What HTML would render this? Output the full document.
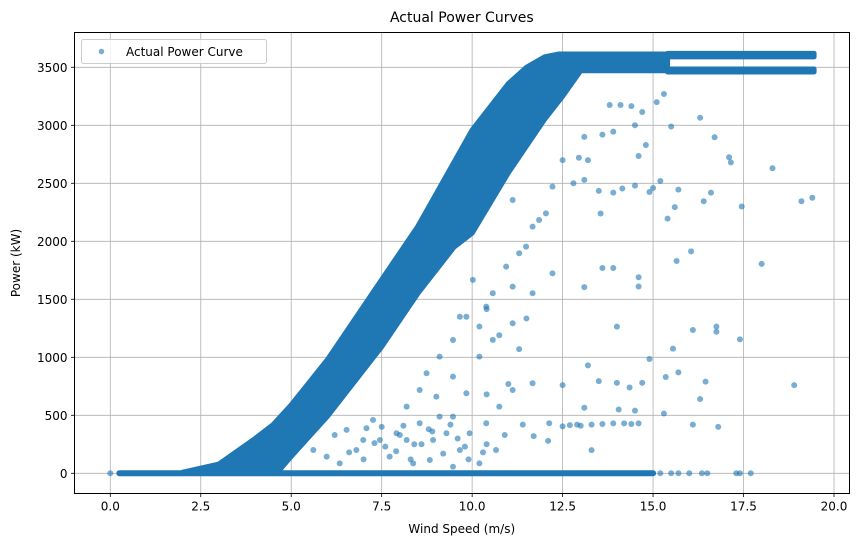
<!DOCTYPE html>
<html><head><meta charset="utf-8"><style>
body{margin:0;background:#fff;font-family:"Liberation Sans","DejaVu Sans",sans-serif}
svg text{font-family:"DejaVu Sans","Liberation Sans",sans-serif;fill:#000}
</style></head><body>
<svg id="chart" width="859" height="547" viewBox="0 0 859 547" xmlns="http://www.w3.org/2000/svg">
<text x="461.8" y="22" font-size="14" text-anchor="middle">Actual Power Curves</text>
<g id="grid"></g>
<g id="marks"></g>
<rect x="74.5" y="32.5" width="775" height="461" fill="none" stroke="#000" stroke-width="1"/>
<g id="ticks"></g>
<text x="461.8" y="533" font-size="12" text-anchor="middle">Wind Speed (m/s)</text>
<text x="20" y="263" font-size="12" text-anchor="middle" transform="rotate(-90 20 263)">Power (kW)</text>
<g>
<rect x="81.5" y="39.5" width="185" height="24" rx="2" fill="#fff" fill-opacity="0.8" stroke="#ccc"/>
<circle cx="101.5" cy="51.5" r="2.8" fill="#1f77b4" fill-opacity="0.6"/>
<text x="126" y="56" font-size="12">Actual Power Curve</text>
</g>
</svg>
<script>
const xTicks=[0,2.5,5,7.5,10,12.5,15,17.5,20];
const xTickLabels=["0.0","2.5","5.0","7.5","10.0","12.5","15.0","17.5","20.0"];
const yTicks=[0,500,1000,1500,2000,2500,3000,3500];
const yTickLabels=["0","500","1000","1500","2000","2500","3000","3500"];
const bandUpperWs=[2,3,4,4.5,5,6,7.5,8.5,10,11,11.5,12,12.4,15.4];
const bandUpperKw=[10,80,300,420,590,980,1670,2130,2960,3360,3500,3590,3615,3615];
const bandLowerWs=[15.4,13,12.5,12,11,10,9.5,8.5,7.5,6,5,4.6,4,2];
const bandLowerKw=[3470,3470,3250,3050,2590,2070,1950,1550,1090,490,145,0,0,0];
const plateauStartWs=15.4, plateauEndWs=19.45;
const plateauTopKw=[3590,3620];
const plateauBottomKw=[3460,3485];
const zeroLineWs=[0.25,15.0];
const zeroOutlierWs=[0,15.2,15.5,15.7,16.0,16.35,16.5,17.3,17.4,17.7];
const outlierWs=[
16.3,15.5,16.7,17.1,17.15,18.3,19.1,19.4,17.45,15.4,
16.05,15.65,18.0,14.6,14.6,13.9,13.6,13.1,14.0,16.1,
16.75,16.75,17.4,18.9,16.8,16.1,16.3,16.45,15.55,14.9,
13.2,13.5,14.05,13.3,12.5,12.1,11.7,11.5,11.3,11.0,
10.4,10.2,10.75,10.4,13.1,14.5,15.3,14.7,15.35,15.7,
14.35,14.0,13.8,14.1,14.4,14.7,15.1,15.3,13.9,13.6,
13.1,14.5,14.8,14.6,13.2,12.95,12.8,13.1,13.5,13.9,
14.15,14.5,14.9,15.2,15.0,15.7,16.6,16.4,15.6,13.55,
12.5,12.7,12.9,13.0,13.3,13.6,13.9,14.2,14.4,14.6,
6.53,7.08,7.45,7.91,8.55,8.92,9.29,9.66,6.8,7.72,
8.19,8.55,9.01,9.47,9.84,10.2,10.57,11.12,11.67,12.22,
9.84,10.39,10.94,11.3,11.67,12.04,12.22,11.12,12.5,5.98,
5.61,6.34,8.37,8.83,9.47,10.2,10.66,9.1,8.19,7.26,
6.99,9.47,9.93,10.39,10.75,11.12,11.67,12.13,8.74,9.1,
9.47,9.66,10.02,10.57,11.12,11.49,11.85,7.6,8.0,8.4,
7.0,7.3,7.9,8.1,8.6,8.9,9.2,9.6,9.9,10.4,
6.2,6.6,7.5,8.3,8.8,9.4,9.8,10.3,10.9,11.4];
const outlierKw=[
3065,2990,2897,2725,2680,2630,2345,2375,2300,2195,
1913,1830,1805,1690,1610,1770,1770,1605,1264,1235,
1265,1220,1155,760,400,420,640,790,1075,985,
930,795,550,200,760,280,320,1335,1070,770,
1415,1265,1190,680,565,540,515,780,830,870,
740,780,3175,3175,3165,3115,3200,3270,2945,2920,
2900,3000,2830,2735,2700,2720,2500,2530,2435,2420,
2455,2480,2425,2520,2460,2445,2420,2345,2295,2240,
405,415,420,410,420,425,430,430,425,430,
374,388,287,345,431,287,345,201,201,144,
575,718,661,833,690,1006,1150,1293,1552,1724,
1350,1437,1782,1897,2126,2241,2471,2356,2700,144,
201,86,86,115,57,86,201,489,287,460,
287,489,345,431,575,718,776,431,862,1006,
1149,1350,1667,1552,1609,1954,2184,230,330,250,
120,260,190,410,250,360,170,300,120,250,
330,180,400,120,380,420,230,180,330,420];
const X0=74.5,X1=849.5,Y0=493.5,Y1=32.5;
const xs=v=>110.3+v*(834-110.3)/20;
const ys=v=>473.3-v*(473.3-67.3)/3500;
const NS="http://www.w3.org/2000/svg";
function mk(tag,attrs,parent){const e=document.createElementNS(NS,tag);for(const k in attrs)e.setAttribute(k,attrs[k]);parent.appendChild(e);return e;}
const grid=document.getElementById('grid'),ticks=document.getElementById('ticks'),marks=document.getElementById('marks');
xTicks.forEach((t,i)=>{const x=xs(t);
 const g=mk('line',{x1:x,x2:x,y1:Y1,y2:Y0,stroke:'#b0b0b0','stroke-width':0.8},grid);
 
 
 const tk=mk('line',{x1:x,x2:x,y1:Y0,y2:Y0+3.5,stroke:'#000','stroke-width':0.8},ticks);
 
 
 const tl=mk('text',{x:x,y:Y0+17,'font-size':12,'text-anchor':'middle'},ticks);tl.textContent=xTickLabels[i];
 
 });
yTicks.forEach((t,i)=>{const y=ys(t);
 const g=mk('line',{x1:X0,x2:X1,y1:y,y2:y,stroke:'#b0b0b0','stroke-width':0.8},grid);
 
 
 const tk=mk('line',{x1:X0-3.5,x2:X0,y1:y,y2:y,stroke:'#000','stroke-width':0.8},ticks);
 
 
 const tl=mk('text',{x:X0-7,y:y+4.5,'font-size':12,'text-anchor':'end'},ticks);tl.textContent=yTickLabels[i];
 
 });
const C='#1f77b4';
let pts=[];
bandUpperWs.forEach((w,i)=>pts.push(xs(w)+','+ys(bandUpperKw[i])));
bandLowerWs.forEach((w,i)=>pts.push(xs(w)+','+ys(bandLowerKw[i])));
const band=mk('polygon',{points:pts.join(' '),fill:C,stroke:C,'stroke-width':5,'stroke-linejoin':'round'},marks);


[plateauTopKw,plateauBottomKw].forEach(p=>{
 const r=mk('rect',{x:xs(plateauStartWs),y:ys(p[1]),width:xs(plateauEndWs)-xs(plateauStartWs),height:ys(p[0])-ys(p[1]),fill:C,stroke:C,'stroke-width':5,'stroke-linejoin':'round'},marks);
 
 });
const z=mk('line',{x1:xs(zeroLineWs[0]),x2:xs(zeroLineWs[1]),y1:ys(0),y2:ys(0),stroke:C,'stroke-width':6,'stroke-linecap':'round'},marks);


zeroOutlierWs.forEach(w=>{const c=mk('circle',{cx:xs(w),cy:ys(0),r:3,fill:C,'fill-opacity':0.6},marks);
 
 });
outlierWs.forEach((w,i)=>{const c=mk('circle',{cx:xs(w),cy:ys(outlierKw[i]),r:3,fill:C,'fill-opacity':0.6},marks);
 
 });
</script>
</body></html>
